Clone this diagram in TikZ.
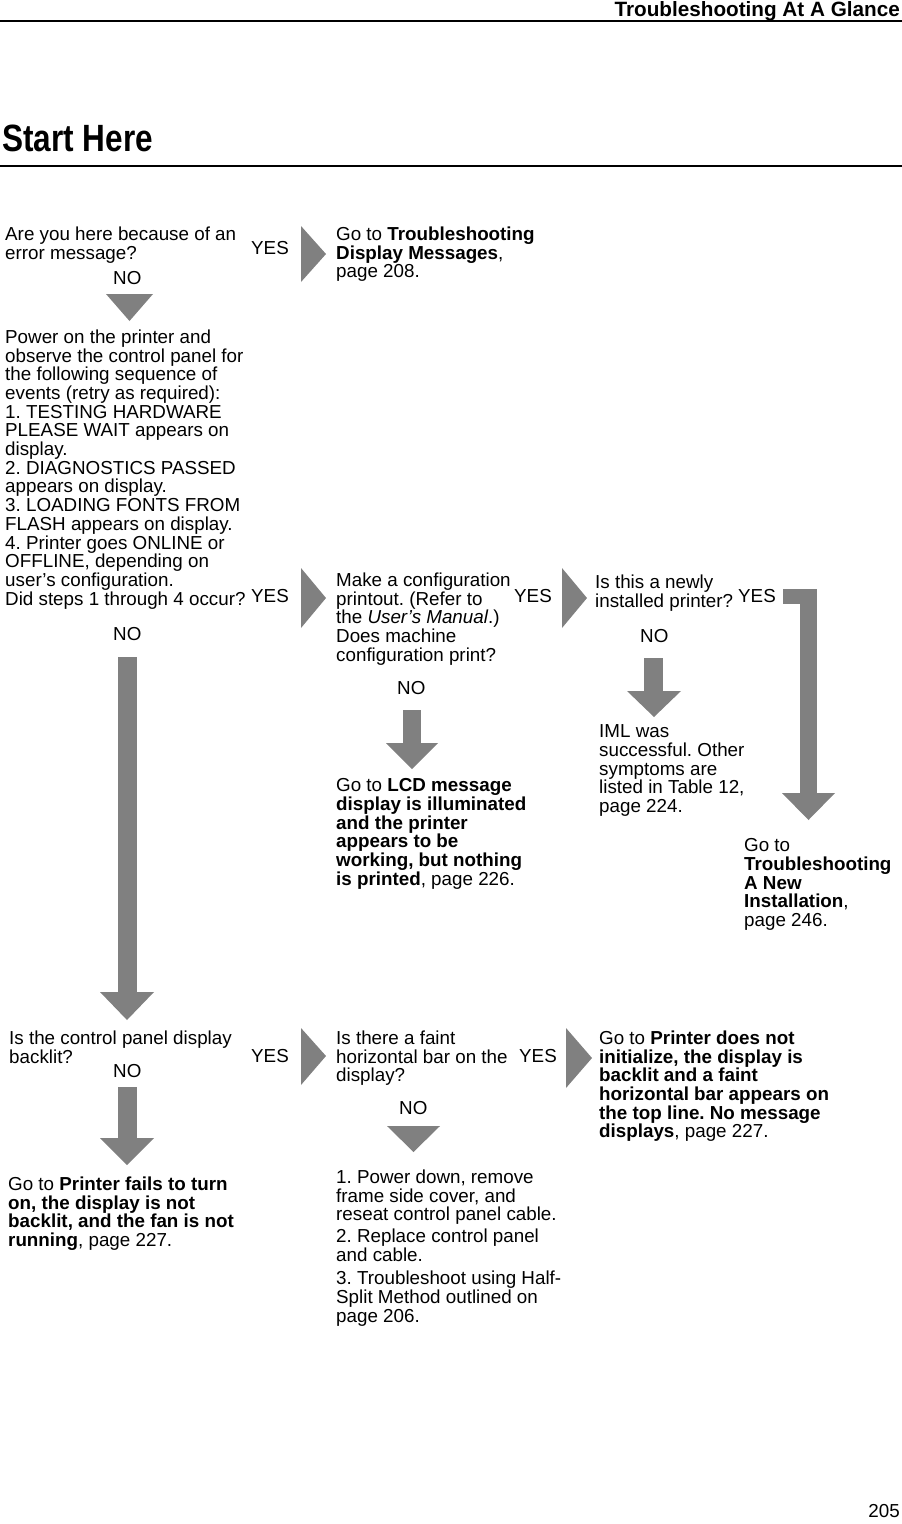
\documentclass[tikz,border=0pt]{standalone}
\usepackage{fontspec}
\setmainfont{Liberation Sans}
\definecolor{arrgray}{RGB}{128,128,128}
\tikzset{
  txt/.style={anchor=north west, inner sep=0pt, align=left, font=\fontsize{18.8}{18.7}\selectfont},
  yn/.style={anchor=west, inner sep=0pt, font=\fontsize{18.8}{18.7}\selectfont},
  blockarrow/.style={fill=arrgray, draw=none}
}
\frenchspacing
\begin{document}
\frenchspacing
\begin{tikzpicture}[x=1pt,y=-1pt]
\useasboundingbox (0,0) rectangle (902,1524);
% header
\node[anchor=base east, inner sep=0pt, font=\fontsize{20.7}{22}\selectfont\bfseries] (hdr) at (900,16) {Troubleshooting At A Glance};
\draw[line width=2pt] (0,21) -- (902,21);
\node[anchor=base west, inner sep=0pt, font=\fontsize{38}{40}\selectfont\bfseries, xscale=0.83, transform shape] (start) at (2,151) {Start Here};
\draw[line width=1.2pt] (0,166) -- (902,166);
\node[anchor=base east, inner sep=0pt, font=\fontsize{18.8}{18.7}\selectfont] (pg) at (900,1517) {205};

% texts
\node[txt] (q1) at (5,226.5) {Are you here because of an\\error message?};
\node[txt] (r1) at (336,226.5) {Go to \textbf{Troubleshooting}\\\textbf{Display Messages},\\page 208.};
\node[txt] (q2) at (5,329.5) {Power on the printer and\\observe the control panel for\\the following sequence of\\events (retry as required):\\1. TESTING HARDWARE\\PLEASE WAIT appears on\\display.\\2. DIAGNOSTICS PASSED\\appears on display.\\3. LOADING FONTS FROM\\FLASH appears on display.\\4. Printer goes ONLINE or\\OFFLINE, depending on\\user’s configuration.\\Did steps 1 through 4 occur?};
\node[txt] (q3) at (336,572.5) {Make a configuration\\printout. (Refer to\\the \textit{User’s Manual}.)\\Does machine\\configuration print?};
\node[txt] (q4) at (595,574.5) {Is this a newly\\installed printer?};
\node[txt] (r3) at (336,778.5) {Go to \textbf{LCD message}\\\textbf{display is illuminated}\\\textbf{and the printer}\\\textbf{appears to be}\\\textbf{working, but nothing}\\\textbf{is printed}, page 226.};
\node[txt] (r4) at (599,724.5) {IML was\\successful. Other\\symptoms are\\listed in Table 12,\\page 224.};
\node[txt] (r5) at (744,838.5) {Go to\\\textbf{Troubleshooting}\\\textbf{A New}\\\textbf{Installation},\\page 246.};
\node[txt] (q5) at (9,1030.5) {Is the control panel display\\backlit?};
\node[txt] (r6) at (8,1176.5) {Go to \textbf{Printer fails to turn}\\\textbf{on, the display is not}\\\textbf{backlit, and the fan is not}\\\textbf{running}, page 227.};
\node[txt] (q6) at (336,1030.5) {Is there a faint\\horizontal bar on the\\display?};
\node[txt] (r7) at (599,1030.5) {Go to \textbf{Printer does not}\\\textbf{initialize, the display is}\\\textbf{backlit and a faint}\\\textbf{horizontal bar appears on}\\\textbf{the top line. No message}\\\textbf{displays}, page 227.};
\node[txt] (r8) at (336,1169.5) {1. Power down, remove\\frame side cover, and\\reseat control panel cable.\\[3.5pt]2. Replace control panel\\and cable.\\[4.5pt]3. Troubleshoot using Half-\\Split Method outlined on\\page 206.};

% YES / NO labels
\node[yn] (y1) at (251,248) {YES};
\node[yn] (y2) at (251,596) {YES};
\node[yn] (y3) at (514,596) {YES};
\node[yn] (y4) at (738,596) {YES};
\node[yn] (y5) at (251,1056) {YES};
\node[yn] (y6) at (519,1056) {YES};
\node[yn] (n1) at (113,278) {NO};
\node[yn] (n2) at (113,634) {NO};
\node[yn] (n3) at (397,688) {NO};
\node[yn] (n4) at (640,636) {NO};
\node[yn] (n5) at (113,1071) {NO};
\node[yn] (n6) at (399,1108) {NO};

% right-pointing triangles
\fill[blockarrow] (301,226) -- (326,254) -- (301,282) -- cycle;
\fill[blockarrow] (301,568) -- (326,598) -- (301,628) -- cycle;
\fill[blockarrow] (562,568) -- (587,598) -- (562,628) -- cycle;
\fill[blockarrow] (301,1028) -- (326,1056) -- (301,1085) -- cycle;
\fill[blockarrow] (566,1028) -- (592,1058) -- (566,1088) -- cycle;

% down triangles
\fill[blockarrow] (106,294) -- (153,294) -- (129.5,321) -- cycle;
\fill[blockarrow] (387,1126) -- (440,1126) -- (413.5,1152) -- cycle;

% down block arrows
\fill[blockarrow] (118,657) rectangle (137,993);
\fill[blockarrow] (100,992) -- (154,992) -- (127,1020) -- cycle;
\fill[blockarrow] (403,710) rectangle (421,744);
\fill[blockarrow] (386,743) -- (438,743) -- (412,769) -- cycle;
\fill[blockarrow] (644,658) rectangle (663,692);
\fill[blockarrow] (627,691) -- (681,691) -- (654,717) -- cycle;
\fill[blockarrow] (118,1087) rectangle (137,1139);
\fill[blockarrow] (100,1138) -- (154,1138) -- (127,1165) -- cycle;

% elbow arrow
\fill[blockarrow] (783,589) rectangle (816,604);
\fill[blockarrow] (800,589) rectangle (817,794);
\fill[blockarrow] (782,793) -- (835,793) -- (808.5,820) -- cycle;
\end{tikzpicture}
\end{document}
